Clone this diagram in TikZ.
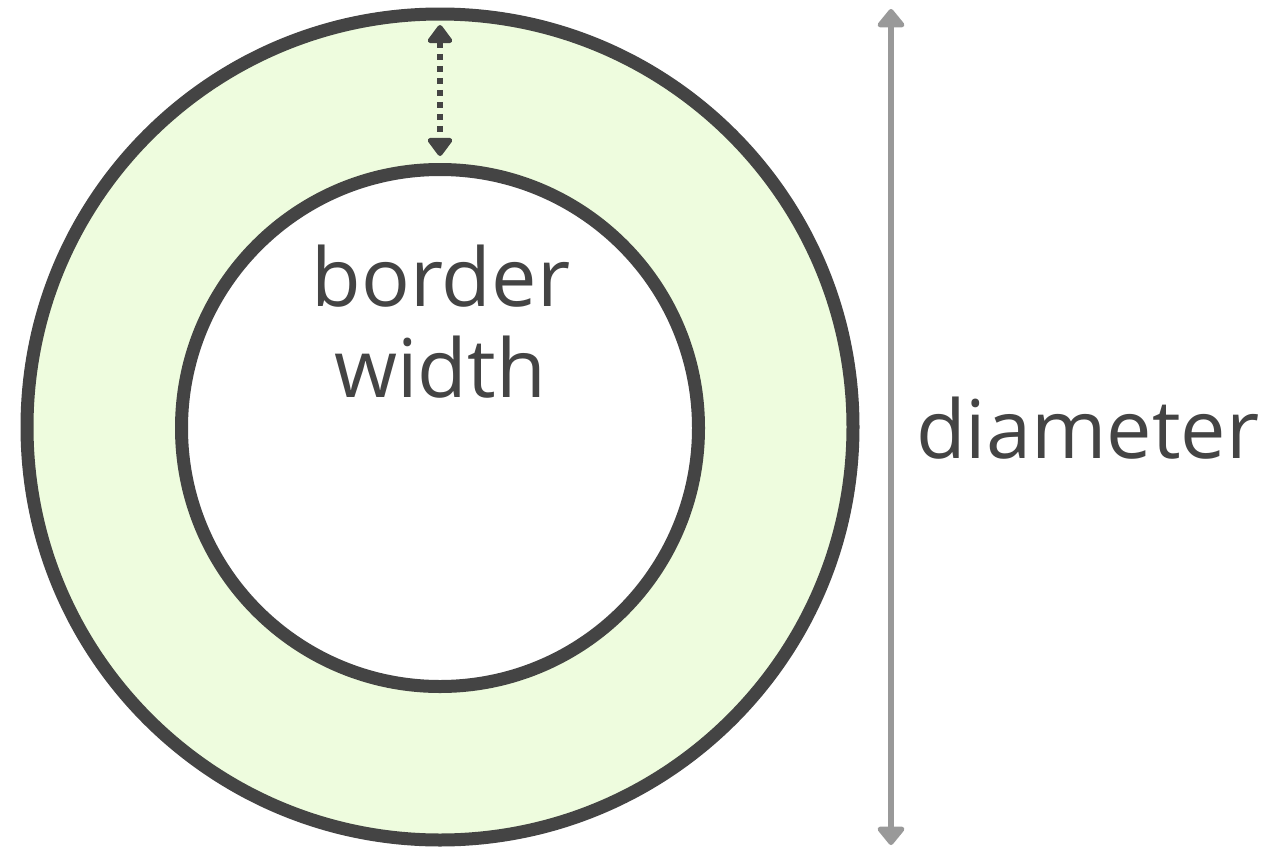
\documentclass[tikz,border=0pt]{standalone}
\usepackage{fontspec}
\setmainfont{Open Sans}
\usetikzlibrary{arrows.meta}
\definecolor{ink}{HTML}{444444}
\definecolor{ringfill}{HTML}{EEFCDE}
\definecolor{dimgrey}{HTML}{999999}
\tikzset{
  ring/.style={draw=ink, line width=13pt},
  label/.style={text=ink, font=\fontsize{81}{91}\selectfont, inner sep=0pt},
  dimarrow/.style={draw=dimgrey, line width=6pt, {Triangle[round,width=31pt,length=20pt]}-{Triangle[round,width=31pt,length=20pt]}},
  bwarrow/.style={draw=ink, line width=6pt, dash pattern=on 6pt off 6pt, {Triangle[round,width=28pt,length=20pt]}-{Triangle[round,width=28pt,length=20pt]}}
}
\begin{document}
\begin{tikzpicture}[x=1pt,y=-1pt]
\useasboundingbox (0,0) rectangle (1280,854);
\fill[white] (0,0) rectangle (1280,854);
\node[ring, fill=ringfill, circle, minimum size=826pt, inner sep=0pt] (outer) at (440,427) {};
\node[ring, fill=white, circle, minimum size=517pt, inner sep=0pt] (inner) at (440,428) {};
\coordinate (bwtop) at (440,25);
\coordinate (bwbot) at (440,156);
\draw[bwarrow] (bwtop) -- (bwbot);
\coordinate (dtop) at (891,9);
\coordinate (dbot) at (891,845);
\draw[dimarrow] (dtop) -- (dbot);
\node[label, anchor=base] (border) at (441,306) {border};
\node[label, anchor=base] (width) at (440,397) {width};
\node[label, anchor=base west] (diam) at (916,458) {diameter};
\end{tikzpicture}
\end{document}
